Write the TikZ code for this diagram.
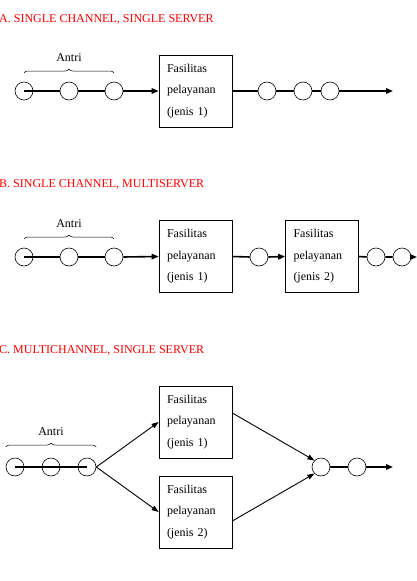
\documentclass[tikz,border=0pt]{standalone}
\usepackage{fontspec}
\setmainfont{Liberation Serif}
\usetikzlibrary{arrows.meta,decorations.pathreplacing}

\tikzset{
  pelanggan/.style={circle, draw, line width=0.6pt, fill=white, minimum size=18pt, inner sep=0pt},
  fasilitas/.style={draw, line width=0.7pt, minimum width=73pt, minimum height=72pt, inner xsep=8pt,
    text width=57pt, align=left, font=\fontsize{12}{21.5}\selectfont},
  antrian/.style={line width=1.6pt},
  panahtebal/.style={antrian, -{Triangle[length=7pt,width=5.5pt]}},
  panahtipis/.style={line width=0.9pt, -{Triangle[length=7pt,width=5pt]}},
  kurung/.style={decorate, decoration={brace, amplitude=4pt}, line width=0.5pt},
  judul/.style={text=red, anchor=base west, inner sep=0pt, font=\fontsize{12}{14}\selectfont},
  label antri/.style={anchor=base, inner sep=0pt, font=\fontsize{12}{14}\selectfont}
}

\begin{document}
\begin{tikzpicture}[x=1pt,y=-1pt]
  \useasboundingbox (0,0) rectangle (417,581);

  % A. single channel, single server
  \node[judul] (judulA) at (-1,22) {A. SINGLE CHANNEL, SINGLE SERVER};
  \node[pelanggan] (a1) at (24,91) {};
  \node[pelanggan] (a2) at (69,91) {};
  \node[pelanggan] (a3) at (114,91) {};
  \node[fasilitas] (kotakA) at (195.5,91) {Fasilitas\\pelayanan\\(jenis 1)};
  \node[pelanggan] (a4) at (267,91) {};
  \node[pelanggan] (a5) at (303,91) {};
  \node[pelanggan] (a6) at (330,91) {};
  \coordinate (akhirA) at (393,91);
  \draw[antrian] (a1.center) -- (a2.west) (a2.east) -- (a3.west);
  \draw[panahtebal] (a3.east) -- (kotakA.west);
  \draw[antrian] (kotakA.east) -- (a4.west) (a4.east) -- (a5.west) (a5.east) -- (a6.west);
  \draw[panahtebal] (a6.east) -- (akhirA);
  \draw[kurung] ([yshift=18pt]a1.center) -- ([yshift=18pt]a3.center)
    node[label antri, midway, yshift=12pt] (antriA) {Antri};

  % B. single channel, multiserver
  \node[judul] (judulB) at (-1,187) {B. SINGLE CHANNEL, MULTISERVER};
  \node[pelanggan] (b1) at (24,257) {};
  \node[pelanggan] (b2) at (69,257) {};
  \node[pelanggan] (b3) at (114,257) {};
  \node[fasilitas] (kotakB1) at (195.5,256.5) {Fasilitas\\pelayanan\\(jenis 1)};
  \node[pelanggan] (b4) at (259,257) {};
  \node[fasilitas] (kotakB2) at (322,256.5) {Fasilitas\\pelayanan\\(jenis 2)};
  \node[pelanggan] (b5) at (376,257) {};
  \node[pelanggan] (b6) at (402,257) {};
  \coordinate (akhirB) at (417,257);
  \draw[antrian] (b1.center) -- (b2.west) (b2.east) -- (b3.west);
  \draw[panahtebal] (b3.east) -- (kotakB1.west);
  \draw[antrian] (kotakB1.east) -- (b4.west);
  \draw[panahtebal] (b4.east) -- (kotakB2.west);
  \draw[antrian] (kotakB2.east) -- (b5.west) (b5.east) -- (b6.west);
  \draw[panahtebal] (b6.east) -- (akhirB);
  \draw[kurung] ([yshift=18pt]b1.center) -- ([yshift=18pt]b3.center)
    node[label antri, midway, yshift=12pt] (antriB) {Antri};

  % C. multichannel, single server
  \node[judul] (judulC) at (-1,353) {C. MULTICHANNEL, SINGLE SERVER};
  \node[pelanggan] (c1) at (15,467) {};
  \node[pelanggan] (c2) at (51,467) {};
  \node[pelanggan] (c3) at (87,467) {};
  \node[fasilitas] (kotakC1) at (195.5,422) {Fasilitas\\pelayanan\\(jenis 1)};
  \node[fasilitas] (kotakC2) at (195.5,512) {Fasilitas\\pelayanan\\(jenis 2)};
  \node[pelanggan] (c4) at (321,467) {};
  \node[pelanggan] (c5) at (357,467) {};
  \coordinate (akhirC) at (393,467);
  \draw[antrian] (c1.center) -- (c3.center);
  \draw[panahtipis] (c3.east) -- (kotakC1.west);
  \draw[panahtipis] (c3.east) -- (kotakC2.west);
  \draw[panahtipis] ([yshift=9pt]kotakC1.east) -- (c4.north west);
  \draw[panahtipis] ([yshift=-9pt]kotakC2.east) -- (c4.south west);
  \draw[antrian] (c4.east) -- (c5.west);
  \draw[panahtebal] (c5.east) -- (akhirC);
  \draw[kurung] ([yshift=20pt]c1.west) -- ([yshift=20pt]c3.east)
    node[label antri, midway, yshift=12pt] (antriC) {Antri};
\end{tikzpicture}
\end{document}
